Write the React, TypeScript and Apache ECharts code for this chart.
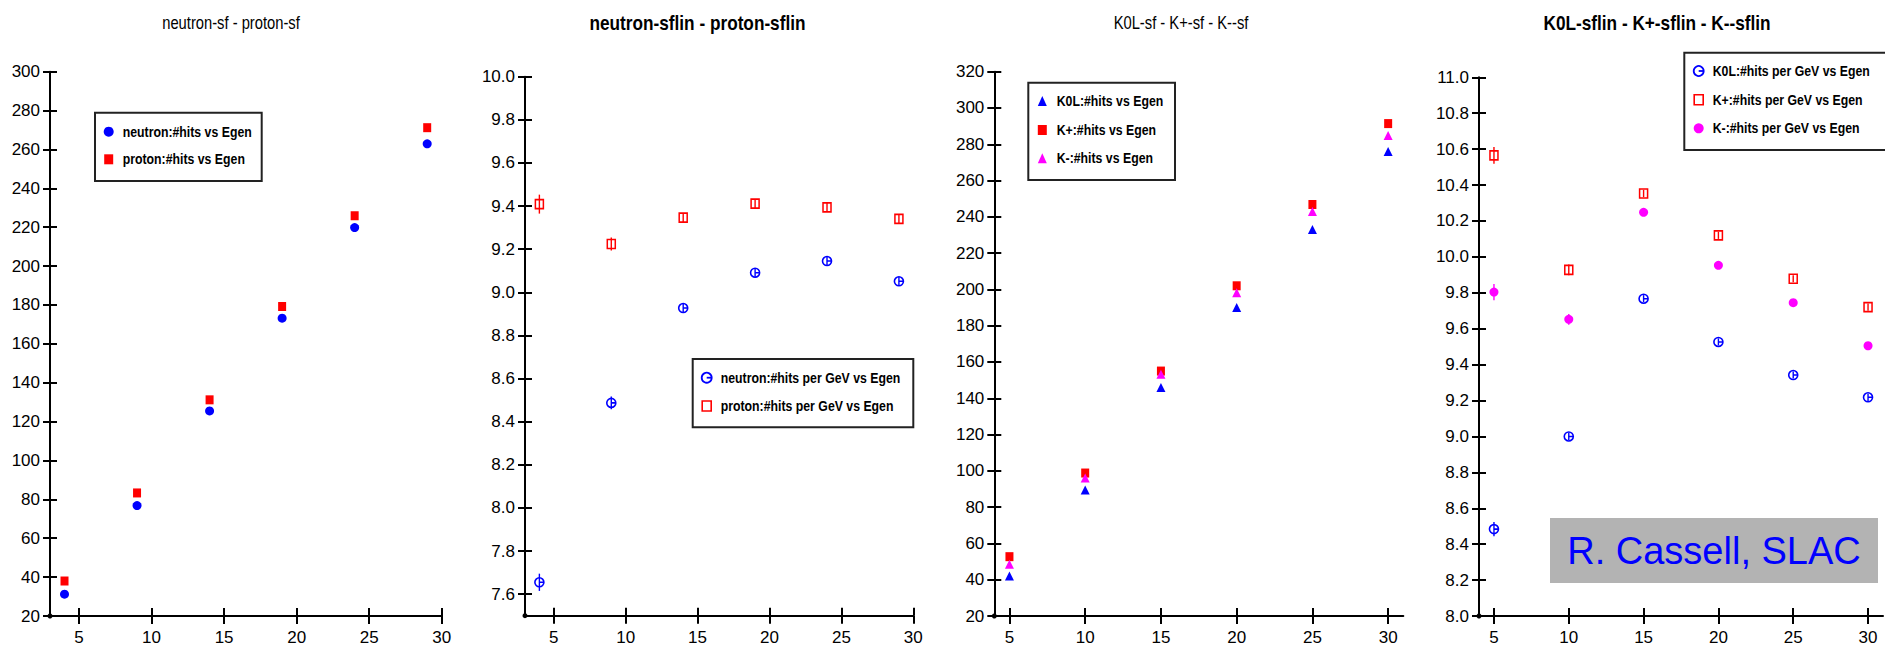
import React, { useEffect, useRef } from 'react';
import * as echarts from 'echarts';

const FONT = "'Liberation Sans', Arial, sans-serif";
const NARROW = 0.82;

// ---- Panel 1: neutron-sf - proton-sf
const p1Title = 'neutron-sf - proton-sf';
const p1X = [4, 9, 14, 19, 24, 29];
const p1Neutron = [31.2, 76.8, 125.5, 173.2, 219.8, 262.9];
const p1Proton = [38.0, 83.3, 131.2, 179.2, 225.9, 271.2];
const p1YTicks = [20, 40, 60, 80, 100, 120, 140, 160, 180, 200, 220, 240, 260, 280, 300];

// ---- Panel 2: neutron-sflin - proton-sflin
const p2Title = 'neutron-sflin - proton-sflin';
const p2X = [4, 9, 14, 19, 24, 29];
const p2Neutron = [7.655, 8.487, 8.927, 9.091, 9.145, 9.051];
const p2NeutronErr = [0.04, 0.03, 0.02, 0.02, 0.02, 0.02];
const p2Proton = [9.409, 9.224, 9.346, 9.411, 9.394, 9.341];
const p2ProtonErr = [0.044, 0.03, 0.02, 0.02, 0.02, 0.02];
const p2YTicks = [7.6, 7.8, 8.0, 8.2, 8.4, 8.6, 8.8, 9.0, 9.2, 9.4, 9.6, 9.8, 10.0];

// ---- Panel 3: K0L-sf - K+-sf - K--sf
const p3Title = 'K0L-sf - K+-sf - K--sf';
const p3X = [5, 10, 15, 20, 25, 30];
const p3K0L = [42, 89.5, 146, 190, 233, 276];
const p3Kplus = [52.7, 98.8, 155, 202, 246.8, 291.4];
const p3Kminus = [48.5, 96, 153.2, 198.2, 243, 284.8];
const p3YTicks = [20, 40, 60, 80, 100, 120, 140, 160, 180, 200, 220, 240, 260, 280, 300, 320];

// ---- Panel 4: K0L-sflin - K+-sflin - K--sflin
const p4Title = 'K0L-sflin - K+-sflin - K--sflin';
const p4X = [5, 10, 15, 20, 25, 30];
const p4K0L = [8.484, 9.0, 9.767, 9.526, 9.342, 9.218];
const p4K0LErr = [0.04, 0.02, 0.02, 0.02, 0.02, 0.02];
const p4Kplus = [10.565, 9.928, 10.353, 10.12, 9.878, 9.72];
const p4KplusErr = [0.047, 0.03, 0.02, 0.02, 0.02, 0.02];
const p4Kminus = [9.804, 9.652, 10.248, 9.953, 9.745, 9.505];
const p4KminusErr = [0.045, 0.03, 0.02, 0.02, 0.02, 0.02];
const p4YTicks = [8.0, 8.2, 8.4, 8.6, 8.8, 9.0, 9.2, 9.4, 9.6, 9.8, 10.0, 10.2, 10.4, 10.6, 10.8, 11.0];

const xTicks = [5, 10, 15, 20, 25, 30];

const watermark = 'R. Cassell, SLAC';

const BLUE = '#0000ff';
const RED = '#ff0000';
const MAGENTA = '#ff00ff';

const OPEN_CIRCLE = 'path://M10,5A5,5,0,1,1,0,5A5,5,0,1,1,10,5ZM5,5L10,5';

function axisPair(dim: 'x' | 'y', gi: number, min: number, max: number, ticks: number[], digits: number) {
  const common = {
    type: 'value',
    gridIndex: gi,
    min,
    max,
    position: dim === 'x' ? 'bottom' : 'left',
    splitLine: { show: false },
  };
  const main = {
    ...common,
    axisLine: { show: true, onZero: false, lineStyle: { color: '#000', width: 2 } },
    axisTick: {
      show: true,
      length: dim === 'x' ? 8 : 7,
      customValues: ticks,
      lineStyle: { color: '#000', width: 2 },
    },
    axisLabel: {
      show: true,
      customValues: ticks,
      margin: dim === 'x' ? 13 : 10,
      color: '#000',
      fontSize: 17,
      fontFamily: FONT,
      formatter: (v: number) => v.toFixed(digits),
    },
  };
  const inner = {
    ...common,
    axisLine: { show: false, onZero: false },
    axisTick: {
      show: true,
      inside: true,
      length: dim === 'x' ? 8 : 7,
      customValues: ticks,
      lineStyle: { color: '#000', width: 2 },
    },
    axisLabel: { show: false },
  };
  return [main, inner];
}

function scatter(name: string, gi: number, xs: number[], ys: number[], symbol: string, size: any, color: string, open: boolean) {
  return {
    type: 'scatter',
    name,
    xAxisIndex: gi * 2,
    yAxisIndex: gi * 2,
    symbol,
    symbolSize: size,
    symbolKeepAspect: true,
    z: 2,
    itemStyle: open
      ? { color: 'rgba(255,255,255,0)', borderColor: color, borderWidth: 1.6, opacity: 1 }
      : { color, opacity: 1 },
    data: xs.map((x, k) => [x, ys[k]]),
  };
}

function errBars(gi: number, xs: number[], ys: number[], es: number[], color: string) {
  return {
    type: 'custom',
    xAxisIndex: gi * 2,
    yAxisIndex: gi * 2,
    z: 3,
    silent: true,
    encode: { x: 0, y: 1 },
    data: xs.map((x, k) => [x, ys[k], es[k]]),
    renderItem: (_p: any, api: any) => {
      const x = api.value(0);
      const y = api.value(1);
      const e = api.value(2);
      const a = api.coord([x, y - e]);
      const b = api.coord([x, y + e]);
      return {
        type: 'line',
        shape: { x1: a[0], y1: a[1], x2: b[0], y2: b[1] },
        style: { stroke: color, lineWidth: 1.4 },
      };
    },
  };
}

type Mk = 'dot' | 'square' | 'tri' | 'ocircle' | 'osquare';

function marker(kind: Mk, cx: number, cy: number, color: string): any[] {
  switch (kind) {
    case 'dot':
      return [{ type: 'circle', shape: { cx, cy, r: 5 }, style: { fill: color } }];
    case 'square':
      return [{ type: 'rect', shape: { x: cx - 4.5, y: cy - 5, width: 9, height: 10 }, style: { fill: color } }];
    case 'tri':
      return [{
        type: 'polygon',
        shape: { points: [[cx - 4.5, cy + 5], [cx + 4.5, cy + 5], [cx, cy - 5]] },
        style: { fill: color },
      }];
    case 'ocircle':
      return [
        { type: 'circle', shape: { cx, cy, r: 5 }, style: { fill: 'none', stroke: color, lineWidth: 1.8 } },
        { type: 'line', shape: { x1: cx, y1: cy, x2: cx + 5, y2: cy }, style: { stroke: color, lineWidth: 1.8 } },
      ];
    case 'osquare':
      return [{
        type: 'rect',
        shape: { x: cx - 4.5, y: cy - 5, width: 9, height: 10 },
        style: { fill: 'none', stroke: color, lineWidth: 1.6 },
      }];
  }
  return [];
}

function legendBox(
  box: [number, number, number, number],
  items: { name: string; kind: Mk; color: string }[],
  rowYs: number[],
  markerX: number,
  textX: number,
) {
  const children: any[] = [
    {
      type: 'rect',
      shape: { x: box[0], y: box[1], width: box[2], height: box[3] },
      style: { fill: '#fff', stroke: '#222', lineWidth: 2 },
    },
  ];
  items.forEach((it, k) => {
    children.push(...marker(it.kind, markerX, rowYs[k], it.color));
    children.push({
      type: 'text',
      x: textX,
      y: rowYs[k],
      scaleX: NARROW,
      style: {
        text: it.name,
        fontSize: 15,
        fontWeight: 'bold',
        fontFamily: FONT,
        fill: '#000',
        align: 'left',
        verticalAlign: 'middle',
      },
    });
  });
  return { type: 'group', z: 40, children };
}

function titleText(text: string, x: number, y: number, bold: boolean) {
  return {
    type: 'text',
    x,
    y,
    scaleX: NARROW,
    style: {
      text,
      fontSize: bold ? 21 : 18,
      fontWeight: bold ? 'bold' : 'normal',
      fontFamily: FONT,
      fill: '#000',
      align: 'center',
      verticalAlign: 'middle',
    },
  };
}

function originDot(x: number, y: number) {
  return { type: 'circle', z: 30, shape: { cx: x, cy: y, r: 2.5 }, style: { fill: '#000' } };
}

export default function App() {
  const ref = useRef<HTMLDivElement>(null);

  useEffect(() => {
    if (!ref.current) return;
    const chart = echarts.init(ref.current, null, { renderer: 'svg' });

    const [x1, x1i] = axisPair('x', 0, 3, 30, xTicks, 0);
    const [y1, y1i] = axisPair('y', 0, 20, 300, p1YTicks, 0);
    const [x2, x2i] = axisPair('x', 1, 3, 30, xTicks, 0);
    const [y2, y2i] = axisPair('y', 1, 7.5, 10.0, p2YTicks, 1);
    const [x3, x3i] = axisPair('x', 2, 4, 31, xTicks, 0);
    const [y3, y3i] = axisPair('y', 2, 20, 320, p3YTicks, 0);
    const [x4, x4i] = axisPair('x', 3, 4, 31, xTicks, 0);
    const [y4, y4i] = axisPair('y', 3, 8.0, 11.0, p4YTicks, 1);

    const n1 = 'neutron:#hits vs Egen';
    const pr1 = 'proton:#hits vs Egen';
    const n2 = 'neutron:#hits per GeV vs Egen';
    const pr2 = 'proton:#hits per GeV vs Egen';
    const k3a = 'K0L:#hits vs Egen';
    const k3b = 'K+:#hits vs Egen';
    const k3c = 'K-:#hits vs Egen';
    const k4a = 'K0L:#hits per GeV vs Egen';
    const k4b = 'K+:#hits per GeV vs Egen';
    const k4c = 'K-:#hits per GeV vs Egen';

    const option: any = {
      animation: false,
      backgroundColor: '#fff',
      grid: [
        { left: 50, top: 71.7, width: 391.7, height: 544.3 },
        { left: 525, top: 76.7, width: 388.3, height: 539 },
        { left: 994.3, top: 71.7, width: 409, height: 544.3 },
        { left: 1479, top: 77.3, width: 404, height: 538.7 },
      ],
      xAxis: [x1, x1i, x2, x2i, x3, x3i, x4, x4i],
      yAxis: [y1, y1i, y2, y2i, y3, y3i, y4, y4i],
      series: [
        scatter(n1, 0, p1X, p1Neutron, 'circle', 9, BLUE, false),
        scatter(pr1, 0, p1X, p1Proton, 'rect', [8, 9], RED, false),

        scatter(n2, 1, p2X, p2Neutron, OPEN_CIRCLE, 9, BLUE, true),
        scatter(pr2, 1, p2X, p2Proton, 'rect', [8, 9], RED, true),
        errBars(1, p2X, p2Neutron, p2NeutronErr, BLUE),
        errBars(1, p2X, p2Proton, p2ProtonErr, RED),

        scatter(k3a, 2, p3X, p3K0L, 'triangle', [9, 9], BLUE, false),
        scatter(k3b, 2, p3X, p3Kplus, 'rect', [8, 9], RED, false),
        scatter(k3c, 2, p3X, p3Kminus, 'triangle', [9, 9], MAGENTA, false),

        scatter(k4a, 3, p4X, p4K0L, OPEN_CIRCLE, 9, BLUE, true),
        scatter(k4b, 3, p4X, p4Kplus, 'rect', [8, 9], RED, true),
        scatter(k4c, 3, p4X, p4Kminus, 'circle', 9, MAGENTA, false),
        errBars(3, p4X, p4K0L, p4K0LErr, BLUE),
        errBars(3, p4X, p4Kplus, p4KplusErr, RED),
        errBars(3, p4X, p4Kminus, p4KminusErr, MAGENTA),
      ],
      graphic: [
        titleText(p1Title, 231, 22, false),
        titleText(p2Title, 697.5, 23, true),
        titleText(p3Title, 1181, 22, false),
        titleText(p4Title, 1657, 23, true),
        legendBox([95, 112.7, 166.7, 68.3],
          [{ name: n1, kind: 'dot', color: BLUE }, { name: pr1, kind: 'square', color: RED }],
          [131.7, 159.3], 108.7, 122.7),
        legendBox([692.7, 359, 220.6, 68.3],
          [{ name: n2, kind: 'ocircle', color: BLUE }, { name: pr2, kind: 'osquare', color: RED }],
          [377.7, 406], 706.7, 720.7),
        legendBox([1028.3, 82.7, 146.7, 97.3],
          [{ name: k3a, kind: 'tri', color: BLUE }, { name: k3b, kind: 'square', color: RED }, { name: k3c, kind: 'tri', color: MAGENTA }],
          [101, 130, 158.3], 1042.3, 1056.7),
        legendBox([1684.3, 52.7, 202, 97.3],
          [{ name: k4a, kind: 'ocircle', color: BLUE }, { name: k4b, kind: 'osquare', color: RED }, { name: k4c, kind: 'dot', color: MAGENTA }],
          [71, 99.7, 128.3], 1698.7, 1712.7),
        originDot(50, 616),
        originDot(525, 615.7),
        originDot(994.3, 616),
        originDot(1479, 616),
        {
          type: 'rect',
          z: 50,
          shape: { x: 1550, y: 518, width: 328, height: 65 },
          style: { fill: '#b3b3b3' },
        },
        {
          type: 'text',
          z: 51,
          x: 1714,
          y: 551,
          style: {
            text: watermark,
            fontSize: 38,
            fontFamily: FONT,
            fill: '#0000ff',
            align: 'center',
            verticalAlign: 'middle',
          },
        },
      ],
    };

    chart.setOption(option);
    return () => chart.dispose();
  }, []);

  return (
    <div
      ref={ref}
      style={{ position: 'absolute', left: 0, top: 0, width: 1885, height: 651 }}
    />
  );
}
